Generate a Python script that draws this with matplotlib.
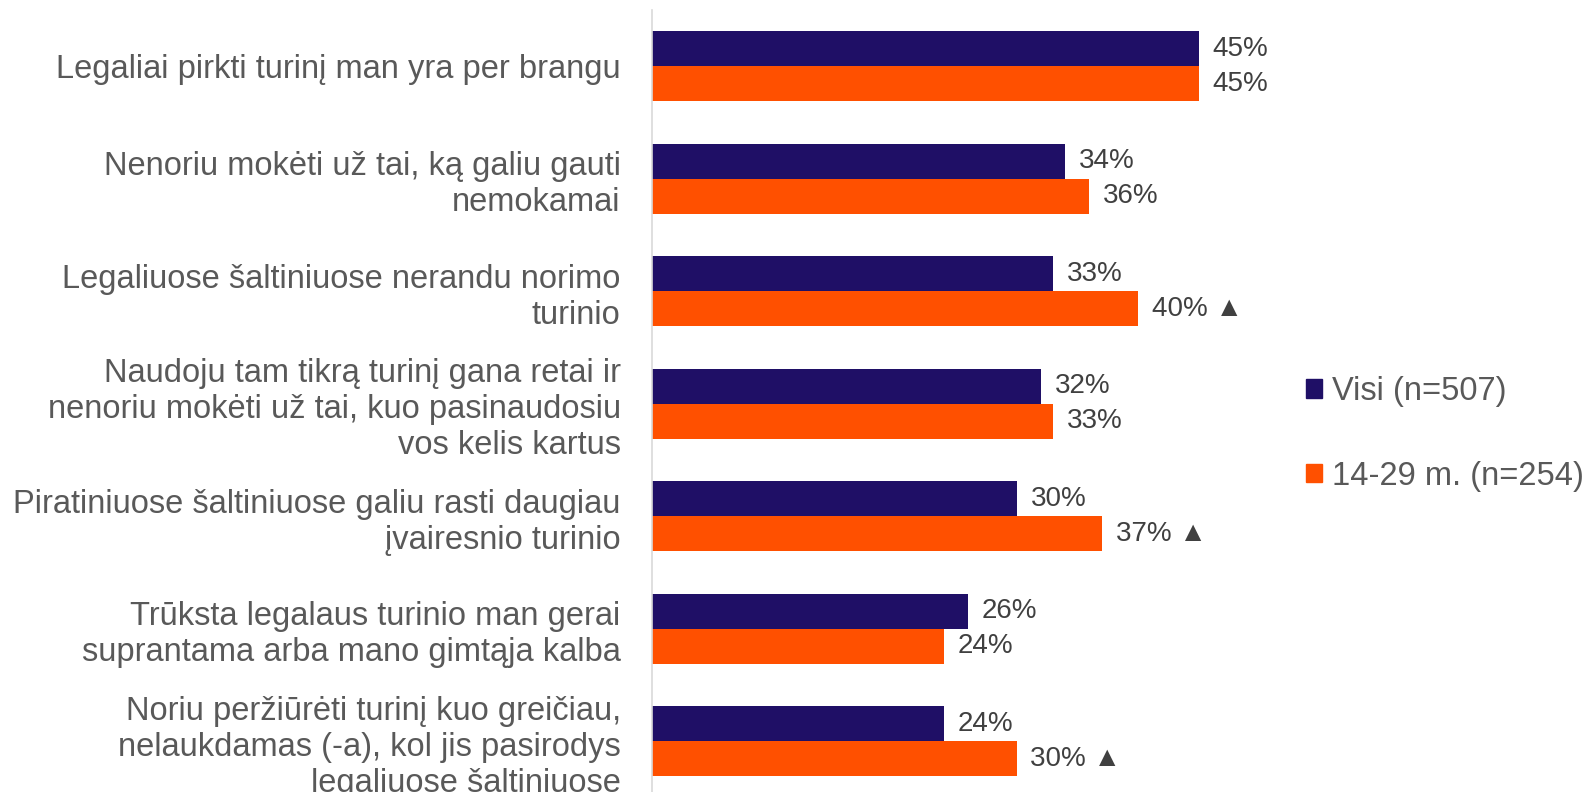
import numpy as np
from matplotlib import pyplot as plt
from matplotlib.patches import Patch

plt.rcParams['font.family'] = ['Liberation Sans', 'DejaVu Sans']

categories = [
	'Legaliai pirkti turinį man yra per brangu',
	'Nenoriu mokėti už tai, ką galiu gauti\nnemokamai',
	'Legaliuose šaltiniuose nerandu norimo\nturinio',
	'Naudoju tam tikrą turinį gana retai ir\nnenoriu mokėti už tai, kuo pasinaudosiu\nvos kelis kartus',
	'Piratiniuose šaltiniuose galiu rasti daugiau\nįvairesnio turinio',
	'Trūksta legalaus turinio man gerai\nsuprantama arba mano gimtąja kalba',
	'Noriu peržiūrėti turinį kuo greičiau,\nnelaukdamas (-a), kol jis pasirodys\nlegaliuose šaltiniuose',
]
visi = [45, 34, 33, 32, 30, 26, 24]
jauni = [45, 36, 40, 33, 37, 24, 30]
jauni_up = [False, False, True, False, True, False, True]
series_names = ['Visi (n=507)', '14-29 m. (n=254)']

navy = '#1F0F66'
orange = '#FF5000'
txt = '#595959'

fig = plt.figure(figsize=(15.84, 7.92), dpi=100)
# axes: zero line at x=652 px, 12.15 px per percent, 112.5 px per category
ax = fig.add_axes([652/1584, (792 - 10 - 787.5)/792, 607.5/1584, 787.5/792])

y = np.arange(len(categories))
h = 0.3125
ax.barh(y - h/2, visi, height=h, color=navy)
ax.barh(y + h/2, jauni, height=h, color=orange)

for i in range(len(categories)):
	ax.text(visi[i] + 1.15, y[i] - h/2, f'{visi[i]}%', va='center', ha='left',
		fontsize=20, color='#404040')
	lab = f'{jauni[i]}%' + (' ▲' if jauni_up[i] else '')
	ax.text(jauni[i] + 1.15, y[i] + h/2, lab, va='center', ha='left',
		fontsize=20, color='#404040')

ax.set_xlim(0, 50)
ax.set_ylim(len(categories) - 0.5, -0.5)
ax.set_yticks(y)
ax.set_yticklabels(categories, fontsize=23.5, color=txt, linespacing=1.21)
ax.tick_params(axis='y', length=0, pad=22.5)
ax.set_xticks([])
for s in ['top', 'right', 'bottom']:
	ax.spines[s].set_visible(False)
ax.spines['left'].set_color('#D9D9D9')
ax.spines['left'].set_linewidth(1.2)

handles = [Patch(color=navy), Patch(color=orange)]
fig.legend(handles, series_names, loc='center left', bbox_to_anchor=(1306/1584, 1 - 434/792),
	frameon=False, fontsize=23.5, labelcolor=txt, handlelength=0.5, handleheight=0.5,
	handletextpad=0.3, labelspacing=1.64, borderaxespad=0, borderpad=0)

fig.savefig('out.png', dpi=100)
